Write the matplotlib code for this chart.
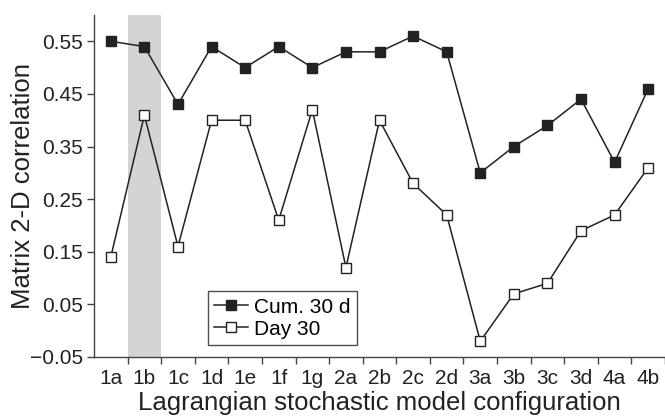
import numpy as np
import matplotlib
matplotlib.use("Agg")
import matplotlib.pyplot as plt

plt.rcParams['font.family'] = ['Liberation Sans', 'DejaVu Sans']

configs = ["1a", "1b", "1c", "1d", "1e", "1f", "1g", "2a", "2b", "2c", "2d",
           "3a", "3b", "3c", "3d", "4a", "4b"]
cum_30d = [0.55, 0.54, 0.43, 0.54, 0.50, 0.54, 0.50, 0.53, 0.53, 0.56, 0.53,
           0.30, 0.35, 0.39, 0.44, 0.32, 0.46]
day_30 = [0.14, 0.41, 0.16, 0.40, 0.40, 0.21, 0.42, 0.12, 0.40, 0.28, 0.22,
          -0.02, 0.07, 0.09, 0.19, 0.22, 0.31]
y_ticks = [-0.05, 0.05, 0.15, 0.25, 0.35, 0.45, 0.55]
highlight = "1b"

fig = plt.figure(figsize=(6.65, 4.18), dpi=100)
ax = fig.add_axes([94 / 665, 1 - 357 / 418, 1 - 94 / 665, (357 - 15) / 418])

x = np.arange(len(configs))
hi = configs.index(highlight)
ax.axvspan(hi - 0.5, hi + 0.5, color="#d3d4d6", lw=0, zorder=0)

dark = "#222222"
ax.plot(x, cum_30d, "-s", color=dark, lw=1.1, ms=7.5, mfc=dark, mec=dark,
        label="Cum. 30 d", zorder=3)
ax.plot(x, day_30, "-s", color=dark, lw=1.1, ms=7.5, mfc="white", mec=dark,
        mew=1.0, label="Day 30", zorder=3)

ax.set_xlim(-0.5, len(configs) - 0.5)
ax.set_ylim(-0.05, 0.6)
ax.set_yticks(y_ticks)
ax.set_yticklabels([f"{v:.2f}".replace("-", "\u2212") for v in y_ticks])

# ticks on category boundaries, labels centred on categories
ax.set_xticks(np.arange(len(configs)) + 0.5)
ax.set_xticklabels([])
ax.set_xticks(x, minor=True)
ax.set_xticklabels(configs, minor=True)
ax.tick_params(axis="x", which="minor", length=0, pad=9)
ax.tick_params(axis="x", which="major", length=5, width=1, color="#444444")
ax.tick_params(axis="y", length=5, width=1, color="#444444", pad=3)
ax.tick_params(which="both", labelsize=15, labelcolor="#222222")

for side in ["top", "right"]:
    ax.spines[side].set_visible(False)
for side in ["left", "bottom"]:
    ax.spines[side].set_color("#444444")
    ax.spines[side].set_linewidth(1.0)

ax.set_xlabel("Lagrangian stochastic model configuration", fontsize=18.5,
              color="#222222", labelpad=2)
ax.set_ylabel("Matrix 2-D correlation", fontsize=18.5, color="#222222")
ax.yaxis.set_label_coords(-0.104, 0.5)

leg = ax.legend(loc="lower left", bbox_to_anchor=(0.2, 0.035), fontsize=15,
                frameon=True, fancybox=False, borderpad=0.3, labelspacing=0.15,
                handlelength=1.6, handletextpad=0.3, borderaxespad=0)
leg.get_frame().set_edgecolor(dark)
leg.get_frame().set_linewidth(1.0)

fig.savefig("out.png", dpi=100)
